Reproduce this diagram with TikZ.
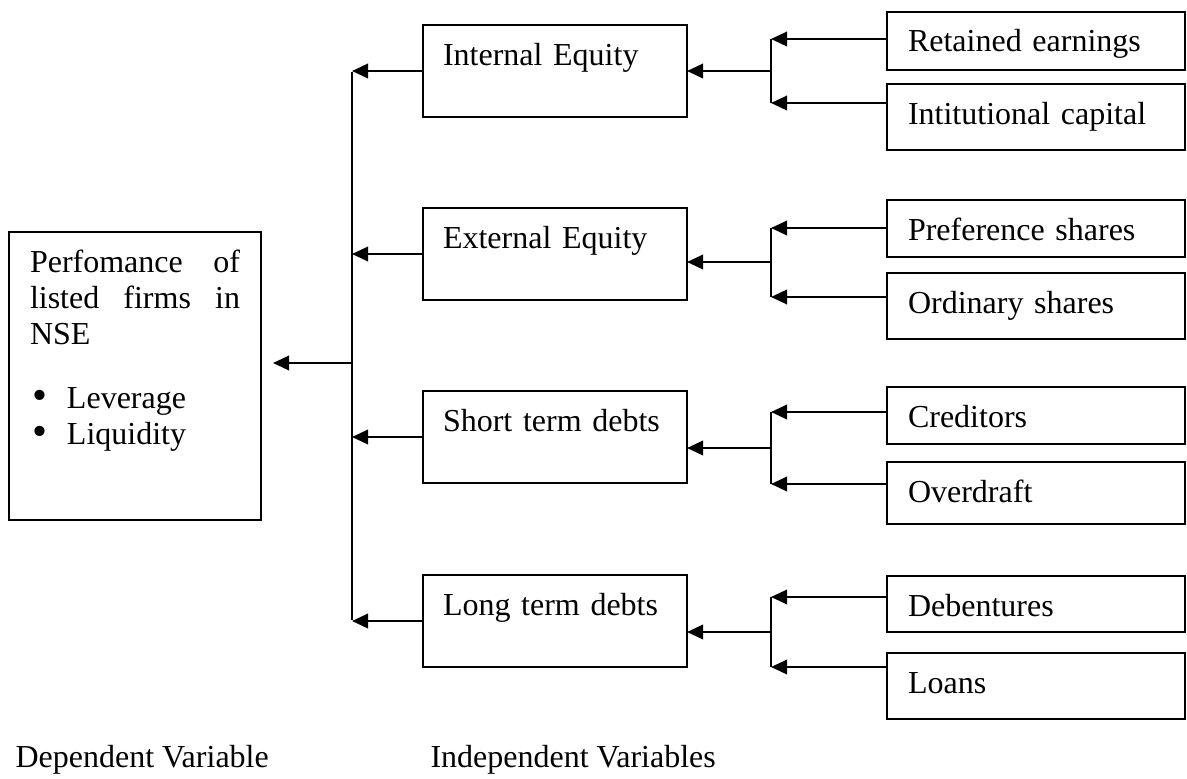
\documentclass[tikz,border=0pt]{standalone}
\usepackage{fontspec}
\setmainfont{Liberation Serif}
\usetikzlibrary{arrows.meta}
\newcommand{\bigbul}{\makebox[13.875pt][l]{\hspace{0.8pt}\smash{\raisebox{-0.6pt}{\fontsize{16}{13.5}\selectfont\textbullet}}}}
\tikzset{
  txt/.style={font=\fontsize{12}{13.5}\selectfont},
  box/.style={draw, line width=0.65pt, anchor=north west, outer sep=0pt,
    inner ysep=0pt, text height=15pt, txt, align=left},
  midbox/.style={box, inner xsep=7.5pt, text width=84pt, text depth=19.5pt},
  rbox/.style={box, inner xsep=7.875pt, text width=95.999pt},
  con/.style={line width=0.85pt},
  arr/.style={con, -{Triangle[length=6pt,width=5.4pt]}}
}
\begin{document}
\begin{tikzpicture}[x=0.375pt,y=-0.375pt]
\useasboundingbox (0,0) rectangle (1187,778);

% dependent variable box
\node[draw, line width=0.65pt, anchor=north west, outer sep=0pt, inner xsep=7.875pt,
  inner ysep=0pt, text height=15pt, text depth=93pt, txt] (dep) at (9,232)
  {\parbox[t]{78.75pt}{\fontsize{12}{13.5}\selectfont
   \hbox to \linewidth{Perfomance\hfil of}
   \hbox to \linewidth{listed\hfil firms\hfil in}
   \hbox{NSE}\par\vspace{10.5pt}
   \hbox{\bigbul Leverage}
   \hbox{\bigbul Liquidity}}};

% middle boxes
\node[midbox] (ie) at (423,25) {Internal Equity};
\node[midbox] (ee) at (423,208) {External Equity};
\node[midbox] (sd) at (423,391) {Short term debts};
\node[midbox] (ld) at (423,575) {Long term debts};

% right boxes
\node[rbox, text depth=6.75pt] (re) at (887,12) {Retained earnings};
\node[rbox, text depth=9.75pt] (ic) at (887,84) {Intitutional capital};
\node[rbox, text depth=6.375pt] (ps) at (887,200) {Preference shares};
\node[rbox, text depth=9.75pt] (os) at (887,273) {Ordinary shares};
\node[rbox, text depth=6.375pt] (cr) at (887,387) {Creditors};
\node[rbox, text depth=8.25pt] (od) at (887,462) {Overdraft};
\node[rbox, text depth=6pt] (db) at (887,576) {Debentures};
\node[rbox, text depth=9.75pt] (lo) at (887,653) {Loans};

% bottom labels
\node[txt, anchor=base west, inner sep=0pt] (dv) at (15,767) {Dependent Variable};
\node[txt, anchor=base west, inner sep=0pt] (iv) at (430,767) {Independent Variables};

% trunk on the left
\coordinate (t1) at (352,72);
\coordinate (t4) at (352,620);
\coordinate (tm) at (352,363);
\coordinate (tip) at (273,363);
\draw[con] (t1) -- (t4);
\draw[arr] (tm) -- (tip);
\foreach \m in {ie,ee,sd,ld}{
  \draw[arr] (\m.west) -- (\m.west -| t1);
}

% brackets on the right
\coordinate (a1) at (771,39);  \coordinate (b1) at (771,103); \coordinate (j1) at (771,71);
\coordinate (a2) at (771,228); \coordinate (b2) at (771,297); \coordinate (j2) at (771,262);
\coordinate (a3) at (771,412); \coordinate (b3) at (771,484); \coordinate (j3) at (771,448);
\coordinate (a4) at (771,597); \coordinate (b4) at (771,667); \coordinate (j4) at (771,632);

\draw[con] (a1) -- (b1); \draw[con] (a2) -- (b2);
\draw[con] (a3) -- (b3); \draw[con] (a4) -- (b4);

\draw[arr] (re.west |- a1) -- (a1);
\draw[arr] (ic.west |- b1) -- (b1);
\draw[arr] (ps.west |- a2) -- (a2);
\draw[arr] (os.west |- b2) -- (b2);
\draw[arr] (cr.west |- a3) -- (a3);
\draw[arr] (od.west |- b3) -- (b3);
\draw[arr] (db.west |- a4) -- (a4);
\draw[arr] (lo.west |- b4) -- (b4);

\draw[arr] (j1) -- (j1 -| ie.east);
\draw[arr] (j2) -- (j2 -| ee.east);
\draw[arr] (j3) -- (j3 -| sd.east);
\draw[arr] (j4) -- (j4 -| ld.east);
\end{tikzpicture}
\end{document}
